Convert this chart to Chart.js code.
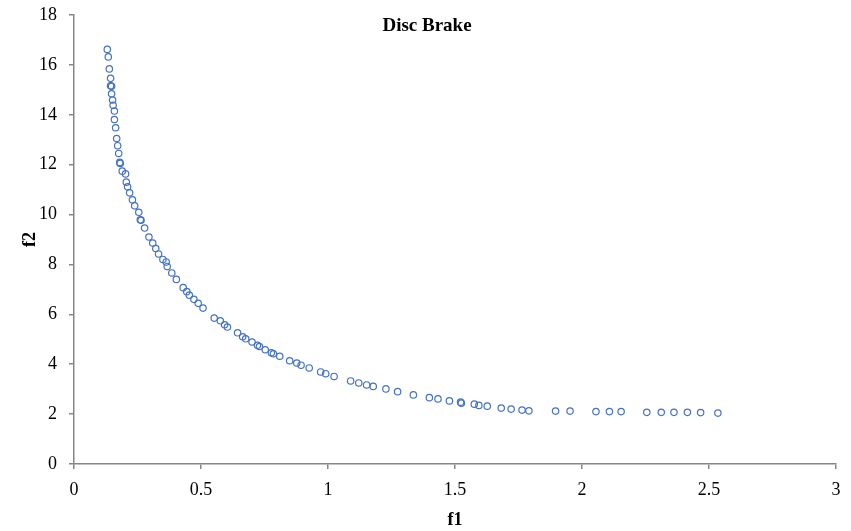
<!DOCTYPE html>
<html>
<head>
<meta charset="utf-8">
<title>Disc Brake</title>
<script src="https://cdn.jsdelivr.net/npm/chart.js@4/dist/chart.umd.min.js"></script>
<style>
    html, body { margin: 0; padding: 0; background: #fff; }
    #wrap { width: 851px; height: 531px; }
</style>
</head>
<body>
<div id="wrap"><canvas id="chart" width="851" height="531"></canvas></div>
<script>
// Pareto front points
const f1 = [
    0.131, 0.135, 0.139, 0.144, 0.144, 0.148, 0.148, 0.152, 0.154, 0.159,
    0.159, 0.164, 0.168, 0.172, 0.176, 0.180, 0.182, 0.190, 0.203, 0.206,
    0.211, 0.219, 0.230, 0.239, 0.255, 0.261, 0.264, 0.278, 0.295, 0.310,
    0.322, 0.333, 0.350, 0.363, 0.367, 0.385, 0.403, 0.430, 0.444, 0.454,
    0.472, 0.489, 0.508, 0.552, 0.576, 0.593, 0.604, 0.644, 0.664, 0.676,
    0.701, 0.722, 0.730, 0.753, 0.777, 0.785, 0.810, 0.849, 0.877, 0.894,
    0.926, 0.971, 0.991, 1.024, 1.089, 1.121, 1.152, 1.178, 1.228, 1.274,
    1.336, 1.399, 1.433, 1.478, 1.522, 1.525, 1.576, 1.594, 1.627, 1.682,
    1.721, 1.764, 1.791, 1.896, 1.953, 2.055, 2.108, 2.154, 2.255, 2.312,
    2.362, 2.415, 2.467, 2.535
];
const f2 = [
    16.62, 16.32, 15.84, 15.46, 15.16, 15.14, 14.84, 14.59, 14.38, 14.15,
    13.81, 13.48, 13.05, 12.76, 12.45, 12.09, 12.05, 11.74, 11.63, 11.30,
    11.11, 10.87, 10.59, 10.35, 10.09, 9.79, 9.77, 9.46, 9.10, 8.86,
    8.64, 8.42, 8.20, 8.10, 7.92, 7.66, 7.40, 7.07, 6.91, 6.77,
    6.60, 6.44, 6.25, 5.85, 5.74, 5.58, 5.49, 5.26, 5.10, 5.02,
    4.89, 4.76, 4.71, 4.58, 4.46, 4.42, 4.32, 4.14, 4.05, 3.96,
    3.85, 3.69, 3.62, 3.51, 3.33, 3.25, 3.17, 3.11, 3.01, 2.90,
    2.77, 2.66, 2.61, 2.53, 2.48, 2.44, 2.40, 2.35, 2.32, 2.24,
    2.20, 2.16, 2.13, 2.12, 2.12, 2.10, 2.10, 2.10, 2.07, 2.07,
    2.07, 2.07, 2.06, 2.04
];
const xTicks = [0, 0.5, 1, 1.5, 2, 2.5, 3];
const yTicks = [0, 2, 4, 6, 8, 10, 12, 14, 16, 18];

const points = f1.map((x, i) => ({ x: x, y: f2[i] }));

const axisGray = '#868686';
const serif = '"Liberation Serif", "Times New Roman", serif';

const chartTitle = {
    id: 'chartTitle',
    afterDraw(chart) {
        const ctx = chart.ctx;
        ctx.save();
        ctx.font = 'bold 19px ' + serif;
        ctx.fillStyle = '#000';
        ctx.textAlign = 'center';
        ctx.textBaseline = 'middle';
        ctx.fillText('Disc Brake', 427, 26);
        ctx.restore();
    }
};

new Chart(document.getElementById('chart'), {
    type: 'scatter',
    data: {
        datasets: [{
            label: 'f2',
            data: points,
            pointStyle: 'circle',
            pointRadius: 3.2,
            pointBorderWidth: 1.2,
            pointBorderColor: '#4472C4',
            pointBackgroundColor: 'rgba(255,255,255,0)',
            showLine: false
        }]
    },
    options: {
        responsive: false,
        animation: false,
        layout: { padding: { top: 15, right: 15, left: 0, bottom: 0 } },
        plugins: {
            legend: { display: false },
            tooltip: { enabled: false }
        },
        scales: {
            x: {
                type: 'linear',
                min: 0,
                max: 3,
                afterBuildTicks: s => { s.ticks = xTicks.map(v => ({ value: v })); },
                afterFit: s => { s.height = 67; },
                grid: { display: true, drawOnChartArea: false, drawTicks: true, tickLength: 5, color: axisGray, lineWidth: 1.5 },
                border: { display: true, color: axisGray, width: 1.5 },
                ticks: { color: '#000', font: { family: serif, size: 18 }, padding: 10, maxRotation: 0, callback: v => String(v) },
                title: { display: true, text: 'f1', color: '#000', font: { family: serif, size: 18, weight: 'bold' }, padding: { top: 0, bottom: 0 } }
            },
            y: {
                type: 'linear',
                min: 0,
                max: 18,
                afterBuildTicks: s => { s.ticks = yTicks.map(v => ({ value: v })); },
                afterFit: s => { s.width = 74; s.paddingTop = 0; s.paddingBottom = 0; },
                grid: { display: true, drawOnChartArea: false, drawTicks: true, tickLength: 5, color: axisGray, lineWidth: 1.5 },
                border: { display: true, color: axisGray, width: 1.5 },
                ticks: { color: '#000', font: { family: serif, size: 18 }, padding: 12, callback: v => String(v) },
                title: { display: true, text: 'f2', color: '#000', font: { family: serif, size: 18, weight: 'bold' }, padding: { top: 20, bottom: 0 } }
            }
        }
    },
    plugins: [chartTitle]
});
</script>
</body>
</html>
